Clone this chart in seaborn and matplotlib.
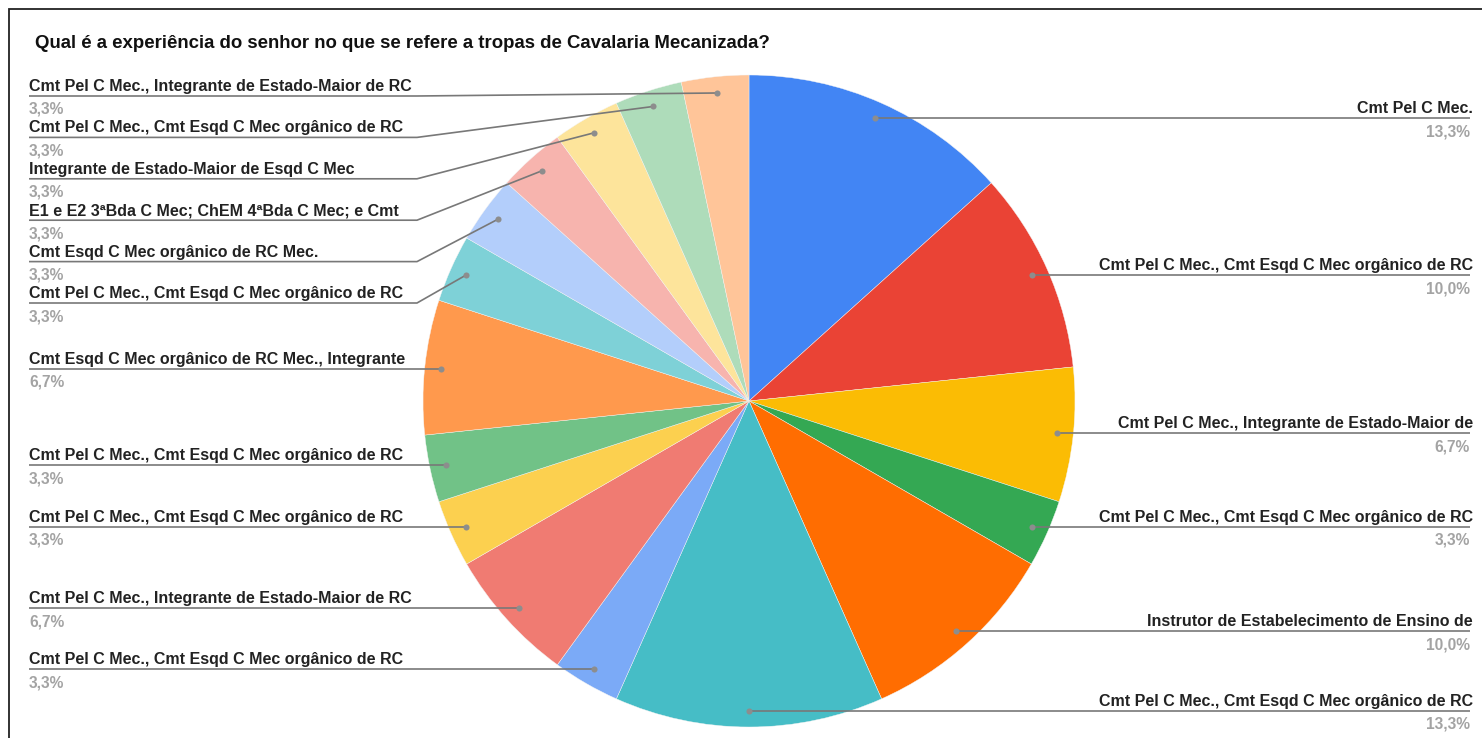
import numpy as np
import matplotlib
matplotlib.use("Agg")
import matplotlib.pyplot as plt
import seaborn as sns

# ---------------------------------------------------------------- data
title = "Qual é a experiência do senhor no que se refere a tropas de Cavalaria Mecanizada?"

categories = [
    "Cmt Pel C Mec.",
    "Cmt Pel C Mec., Cmt Esqd C Mec orgânico de RC",
    "Cmt Pel C Mec., Integrante de Estado-Maior de",
    "Cmt Pel C Mec., Cmt Esqd C Mec orgânico de RC",
    "Instrutor de Estabelecimento de Ensino de",
    "Cmt Pel C Mec., Cmt Esqd C Mec orgânico de RC",
    "Cmt Pel C Mec., Cmt Esqd C Mec orgânico de RC",
    "Cmt Pel C Mec., Integrante de Estado-Maior de RC",
    "Cmt Pel C Mec., Cmt Esqd C Mec orgânico de RC",
    "Cmt Pel C Mec., Cmt Esqd C Mec orgânico de RC",
    "Cmt Esqd C Mec orgânico de RC Mec., Integrante",
    "Cmt Pel C Mec., Cmt Esqd C Mec orgânico de RC",
    "Cmt Esqd C Mec orgânico de RC Mec.",
    "E1 e E2 3ªBda C Mec; ChEM 4ªBda C Mec; e Cmt",
    "Integrante de Estado-Maior de Esqd C Mec",
    "Cmt Pel C Mec., Cmt Esqd C Mec orgânico de RC",
    "Cmt Pel C Mec., Integrante de Estado-Maior de RC",
]
responses = [4, 3, 2, 1, 3, 4, 1, 2, 1, 1, 2, 1, 1, 1, 1, 1, 1]

slice_colors = [
    "#4285f4", "#ea4335", "#fbbc04", "#34a853", "#ff6d01", "#46bdc6",
    "#7baaf7", "#f07b72", "#fcd04f", "#71c287", "#ff994d", "#7ed1d7",
    "#b3cefb", "#f7b4ae", "#fde49b", "#aedcba", "#ffc599",
]

# ---------------------------------------------------------------- style
sns.set_theme(style="white")
plt.rcParams["font.family"] = ["Liberation Sans", "DejaVu Sans"]

W, H = 1482, 738
fig = plt.figure(figsize=(W / 100, H / 100), dpi=100)
ax = fig.add_axes([0, 0, 1, 1])

# canvas works in pixel units, y measured downward from the top
def py(y):
    return H - y

cx, cy, R = 749, 401, 326
palette = sns.color_palette(slice_colors)

wedges, _ = ax.pie(
    responses,
    colors=palette,
    startangle=90,
    counterclock=False,
    center=(cx, py(cy)),
    radius=R,
    wedgeprops=dict(edgecolor="#f4f4f4", linewidth=0.3),
)
ax.set_xlim(0, W)
ax.set_ylim(0, H)
ax.set_aspect("auto")
ax.axis("off")

# ---------------------------------------------------------------- labels
total = sum(responses)
pct_text = [f"{100 * v / total:.1f}%".replace(".", ",") for v in responses]

anchors = []
for i, w in enumerate(wedges):
    th = np.deg2rad((w.theta1 + w.theta2) / 2)
    dx, dy = 0.95 * R * np.cos(th), 0.95 * R * np.sin(th)
    side = "right" if np.cos(th) > -1e-6 else "left"
    anchors.append(dict(i=i, x=cx + dx, y=cy - dy, side=side))

TOP_Y, STEP = 96, 41.4
LEFT_X, LEFT_BEND = 29, 417
RIGHT_X, RIGHT_BEND = 1470, 1081
line_col, dot_col, pct_col = "#787878", "#8d8d8d", "#a3a3a3"

for side in ("left", "right"):
    group = sorted([a for a in anchors if a["side"] == side], key=lambda a: a["y"])
    prev = TOP_Y - STEP
    for a in group:
        ly = max(a["y"], prev + STEP)
        prev = ly
        if side == "left":
            xs = [LEFT_X, LEFT_BEND, a["x"]]
            ys = [ly, ly, a["y"]]
            tx, px_, ha = LEFT_X, LEFT_X, "left"
        else:
            xs = [a["x"], RIGHT_BEND, RIGHT_X]
            ys = [a["y"], ly, ly]
            tx, px_, ha = RIGHT_X + 3, RIGHT_X, "right"
        ax.plot(xs, [py(v) for v in ys], color=line_col, lw=1.2,
                solid_capstyle="butt", zorder=3)
        ax.plot(a["x"], py(a["y"]), "o", ms=4.4, color=dot_col,
                mec="none", zorder=4)
        ax.text(tx, py(ly - 5), categories[a["i"]], ha=ha, va="baseline",
                fontsize=11.5, fontweight="bold", color="#222222")
        ax.text(px_, py(ly + 18), pct_text[a["i"]], ha=ha, va="baseline",
                fontsize=11.2, fontweight="bold", color=pct_col)

ax.text(35, py(43), title, ha="left", va="center", fontsize=13.4,
        fontweight="bold", color="#111111")

# frame around the chart area
ax.plot([9, 9, W], [py(H), py(9), py(9)], color="#222222", lw=1.3,
        solid_joinstyle="miter", zorder=5)

fig.savefig("out.png", dpi=100)
